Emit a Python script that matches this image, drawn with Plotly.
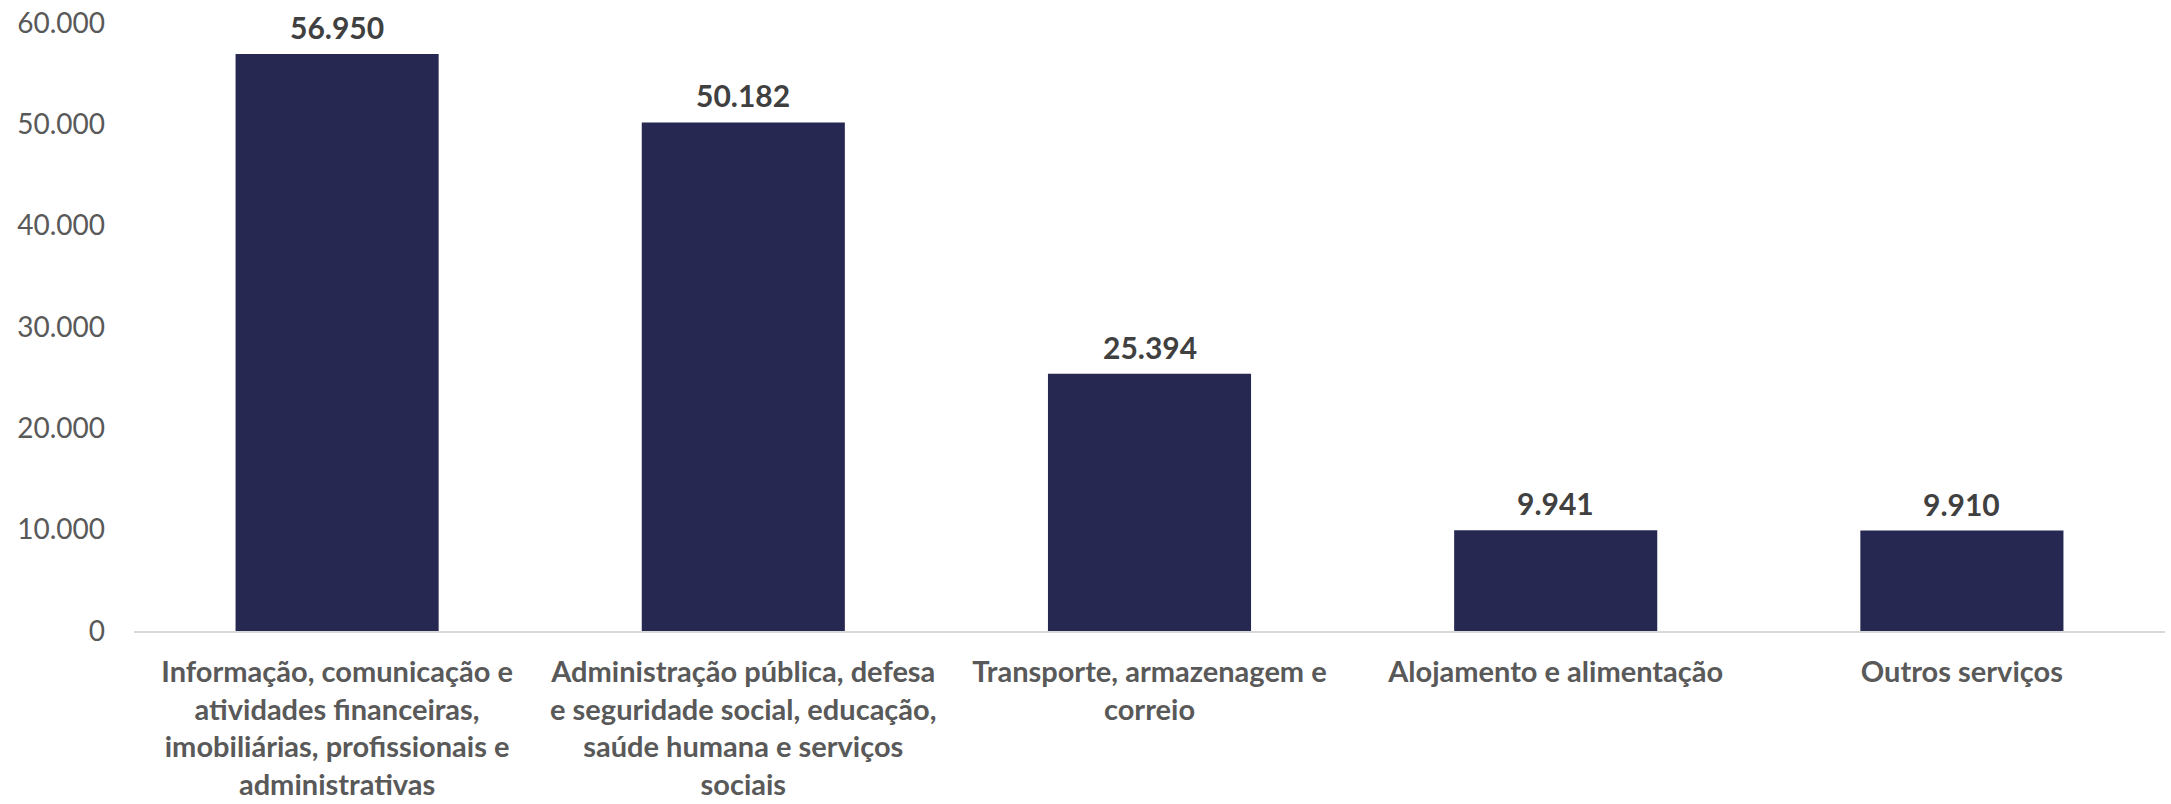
import plotly.graph_objects as go

categories = [
    "Informação, comunicação e<br>atividades financeiras,<br>imobiliárias, profissionais e<br>administrativas",
    "Administração pública, defesa<br>e seguridade social, educação,<br>saúde humana e serviços<br>sociais",
    "Transporte, armazenagem e<br>correio",
    "Alojamento e alimentação",
    "Outros serviços",
]
values = [56950, 50182, 25394, 9941, 9910]
value_labels = ["56.950", "50.182", "25.394", "9.941", "9.910"]
y_ticks = [0, 10000, 20000, 30000, 40000, 50000, 60000]
y_tick_labels = ["0", "10.000", "20.000", "30.000", "40.000", "50.000", "60.000"]

FONT = "Lato, 'Open Sans', sans-serif"

fig = go.Figure(
    go.Bar(
        x=categories,
        y=values,
        marker=dict(color="#262852", line=dict(width=0)),
        hoverinfo="skip",
    )
)

# value labels above the bars
for cat, val, lab in zip(categories, values, value_labels):
    fig.add_annotation(
        x=cat,
        y=val,
        text=f"<b>{lab}</b>",
        showarrow=False,
        yanchor="bottom",
        yshift=7,
        font=dict(family=FONT, size=30, color="#404040"),
    )

fig.update_layout(
    width=2171,
    height=804,
    margin=dict(l=134, r=6, t=23, b=173, autoexpand=False),
    plot_bgcolor="white",
    paper_bgcolor="white",
    bargap=0.5,
    showlegend=False,
    font=dict(family=FONT, size=28, color="#595959"),
    xaxis=dict(
        showgrid=False,
        showline=True,
        linecolor="#d9d9d9",
        linewidth=2,
        ticks="",
        tickfont=dict(family=FONT, size=29, color="#595959", weight="bold"),
        ticklabelstandoff=14,
        automargin=False,
    ),
    yaxis=dict(
        range=[0, 60000],
        tickvals=y_ticks,
        ticktext=y_tick_labels,
        showgrid=False,
        zeroline=False,
        showline=False,
        ticks="",
        tickfont=dict(family=FONT, size=28, color="#595959"),
        ticklabelstandoff=28,
        ticklabeloverflow="allow",
        automargin=False,
    ),
)

# drop the default 8px body margin so the figure fills the window exactly
fig.write_html(
    "out.html",
    config={"displayModeBar": False},
    post_script="document.body.style.margin='0';",
)
